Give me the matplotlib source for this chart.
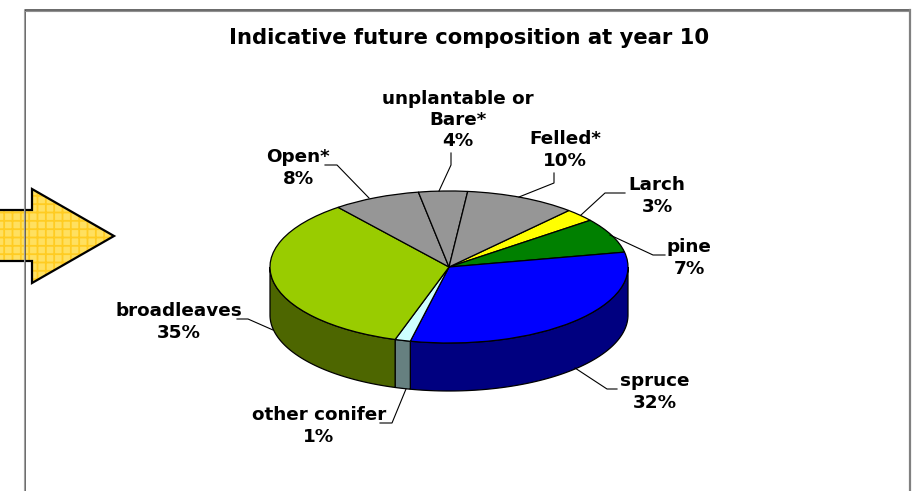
import numpy as np
import matplotlib
matplotlib.use('Agg')
import matplotlib.pyplot as plt

labels = ['Larch', 'pine', 'spruce', 'other conifer', 'broadleaves', 'Open*', 'unplantable or\nBare*', 'Felled*']
percents = [3, 7, 32, 1, 35, 8, 4, 10]
shares = [2.8, 7.4, 31.6, 1.4, 34.5, 7.9, 4.4, 10.0]  # labels are rounded
top_colors = ['#ffff00', '#008000', '#0000ff', '#ccffff', '#99cc00', '#969696', '#969696', '#969696']
side_colors = ['#808000', '#004000', '#000080', '#668080', '#4d6600', '#4b4b4b', '#4b4b4b', '#4b4b4b']

W, H = 914, 491
start = 42  # clockwise from 12 o'clock
depth = 48 / 76

fig = plt.figure(figsize = (W / 100, H / 100), dpi = 100)
plt.rcParams['font.family'] = ['DejaVu Sans']

bg = fig.add_axes([0, 0, 1, 1])
bg.set_xlim(0, W)
bg.set_ylim(H, 0)
bg.axis('off')

# arrow on the left
arrow_x = [-5, 32, 32, 114, 32, 32, -5]
arrow_y = [210, 210, 189, 236, 283, 261, 261]
plt.rcParams['hatch.linewidth'] = 1.3
bg.fill(arrow_x, arrow_y, facecolor = '#ffe060', edgecolor = '#ffcc22', hatch = '++', linewidth = 0)
bg.plot(arrow_x, arrow_y, color = 'k', lw = 1.6, solid_joinstyle = 'miter')

# frame, open at the bottom
bg.plot([24.5, 24.5, 909], [H, 10, 10], color = '#404040', lw = 1.1)
bg.plot([23.5, 23.5], [10, H], color = '#a0a0a0', lw = 0.8)
bg.plot([25, 909], [11, 11], color = '#909090', lw = 0.8)
bg.plot([910, 910], [10, H], color = '#808080', lw = 1.6)

bg.text(469, 38, 'Indicative future composition at year 10', ha = 'center', va = 'center',
        fontsize = 15.2, fontweight = 'bold')

# pie
ax = fig.add_axes([270 / W, 1 - 391 / H, 358 / W, 200 / H])
ax.pie(shares, colors = top_colors, startangle = 90 - start, counterclock = False, radius = 1,
       wedgeprops = {'edgecolor': 'k', 'linewidth': 0.9, 'zorder': 3})
ax.set_aspect('auto')
ax.set_xlim(-1, 1)
ax.set_ylim(-1 - depth, 1)

# side wall, front half only
edges = start + np.cumsum([0] + shares) * 3.6
for i in range(len(shares)):
    a0 = max(edges[i], 90)
    a1 = min(edges[i + 1], 270)
    if a1 <= a0:
        continue
    t = np.radians(np.linspace(a0, a1, 80))
    x = np.sin(t)
    y = np.cos(t)
    ax.fill(np.r_[x, x[::-1]], np.r_[y, y[::-1] - depth], facecolor = side_colors[i],
            edgecolor = 'k', linewidth = 0.9, zorder = 2, clip_on = False)

# labels and leader lines
label_x = [657, 689, 655, 319, 179, 298, 458, 565]
label_y = [196, 258, 392, 426, 322, 168, 120, 150]
leader_x = [[625, 605, 581], [665, 653, 610], [617, 607, 575], [380, 392, 406],
            [237, 248, 273], [325, 337, 369], [451, 451, 439], [554, 554, 519]]
leader_y = [[193, 193, 215], [255, 255, 235], [389, 389, 368], [423, 423, 389],
            [319, 319, 330], [165, 165, 198], [153, 165, 191], [173, 183, 197]]

over = fig.add_axes([0, 0, 1, 1])
over.set_xlim(0, W)
over.set_ylim(H, 0)
over.axis('off')
for i in range(len(shares)):
    over.plot(leader_x[i], leader_y[i], color = 'k', lw = 0.8)
    over.text(label_x[i], label_y[i], '%s\n%d%%' % (labels[i], percents[i]), ha = 'center', va = 'center',
              fontsize = 13.2, fontweight = 'bold', linespacing = 1.22)

plt.savefig('out.png', dpi = 100)
